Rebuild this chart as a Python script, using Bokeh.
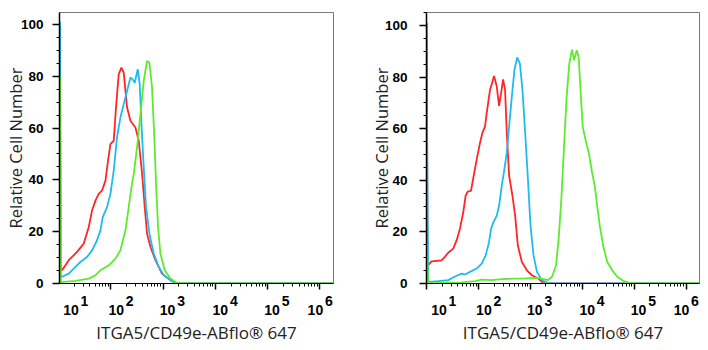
import numpy as np
from bokeh.plotting import figure
from bokeh.layouts import row
from bokeh.models import (FixedTicker, SingleIntervalTicker, Range1d, LogAxis,
                          CustomJSTickFormatter)
from bokeh.embed import file_html
from bokeh.resources import INLINE

# ---------------- data ----------------
decades = [1, 2, 3, 4, 5, 6]
minor_mult = [2, 3, 4, 5, 6, 7, 8, 9]
y_ticks = [0, 20, 40, 60, 80, 100]
x_title = "ITGA5/CD49e-ABflo\u00ae 647"
y_title = "Relative Cell Number"

# left panel (log10 of fluorescence, relative cell number)
left_red_logx = [1.03, 1.04, 1.07, 1.197, 1.356, 1.484, 1.58, 1.643, 1.707, 1.77, 1.834, 1.899, 1.948,
                 1.994, 2.057, 2.10, 2.153, 2.204, 2.248, 2.312, 2.377, 2.472, 2.535, 2.60, 2.65, 2.694,
                 2.76, 2.855, 2.98, 3.14, 3.27, 6.3]
left_red_y = [99, 6, 5.1, 9.0, 12.2, 15.4, 21.8, 28.2, 32, 34.6, 35.9, 39.7, 47.4,
              53.8, 55.1, 67.9, 80.8, 83.3, 81.4, 67.9, 62.8, 60.2, 55.1, 42.3, 29.5, 19.2,
              14.1, 9.0, 3.8, 1.3, 0, 0]

left_blue_logx = [1.03, 1.04, 1.07, 1.197, 1.325, 1.42, 1.547, 1.643, 1.738, 1.803, 1.847, 1.93, 1.994,
                  2.057, 2.12, 2.185, 2.248, 2.312, 2.377, 2.42, 2.459, 2.516, 2.554, 2.587, 2.631,
                  2.675, 2.74, 2.822, 2.918, 3.013, 3.14, 3.236, 3.3, 6.3]
left_blue_y = [101, 3, 2.6, 3.8, 6.4, 8.3, 10.2, 12.8, 16.7, 20.5, 25.6, 29.5, 34.6,
               43.6, 56.4, 64.1, 69.2, 74.3, 79.5, 78.8, 77.5, 82.7, 76.9, 61.5, 44.8,
               29.5, 19.2, 11.5, 6.4, 3.2, 1.3, 0.2, 0, 0]

left_green_logx = [1.03, 1.045, 1.10, 1.325, 1.58, 1.707, 1.803, 1.962, 2.09, 2.185, 2.281, 2.344, 2.396,
                   2.44, 2.503, 2.568, 2.631, 2.694, 2.74, 2.79, 2.836, 2.866, 2.905, 2.95, 3.033,
                   3.14, 3.27, 3.43, 6.3]
left_green_y = [80, 0.5, 0.6, 1.0, 1.9, 3.2, 5.1, 7.0, 9.6, 12.8, 20.5, 29.5, 37.2,
                42.3, 52.5, 65.4, 78.2, 85.9, 85.2, 75.6, 55.1, 38.5, 21.8, 11.5, 5.1,
                1.9, 0.2, 0, 0]

# right panel
right_red_logx = [1.005, 1.02, 1.03, 1.097, 1.29, 1.354, 1.418, 1.515, 1.58, 1.644, 1.708, 1.754, 1.793,
                  1.857, 1.921, 1.967, 2.031, 2.076, 2.128, 2.16, 2.224, 2.302, 2.354, 2.398, 2.437,
                  2.476, 2.514, 2.547, 2.592, 2.656, 2.708, 2.76, 2.838, 2.934, 3.031, 3.16, 3.255, 6.3]
right_red_y = [101, 8, 7.0, 8.6, 9.0, 10.3, 11.9, 13.5, 16.7, 21.2, 27.6, 34.0, 35.6,
               35.9, 43.0, 48.1, 54.5, 58.3, 60.9, 66.0, 75.0, 80.4, 76.3, 68.8, 73.7,
               79.1, 75.0, 58.3, 41.7, 34.0, 26.3, 14.7, 8.3, 5.1, 3.2, 1.9, 0, 0]

right_blue_logx = [1.005, 1.03, 1.064, 1.224, 1.418, 1.58, 1.677, 1.74, 1.838, 1.967, 2.064, 2.141, 2.205,
                   2.244, 2.289, 2.354, 2.398, 2.45, 2.50, 2.547, 2.592, 2.644, 2.694, 2.747, 2.799,
                   2.849, 2.901, 2.954, 3.004, 3.062, 3.128, 3.224, 3.352, 6.3]
right_blue_y = [82, 1.0, 0.6, 0.9, 1.3, 3.0, 3.8, 3.5, 4.5, 5.8, 7.7, 10.9, 16.0,
                21.2, 23.7, 26.3, 30.1, 37.8, 44.2, 50.7, 60.9, 72.4, 82.7, 87.6, 85.3,
                75.0, 58.3, 40.4, 22.4, 10.9, 4.5, 1.3, 0, 0]

right_green_logx = [1.005, 1.03, 1.064, 1.354, 1.677, 1.934, 2.064, 2.257, 2.45, 2.675, 2.901, 3.128,
                    3.255, 3.34, 3.418, 3.495, 3.546, 3.598, 3.65, 3.70, 3.752, 3.805, 3.843, 3.894,
                    3.932, 3.971, 4.01, 4.062, 4.126, 4.191, 4.242, 4.288, 4.339, 4.404, 4.482,
                    4.579, 4.675, 4.803, 4.965, 6.3]
right_green_y = [15, 0.5, 0, 0.3, 0.4, 0.9, 1.5, 1.3, 1.7, 1.9, 2.0, 2.2,
                 1.7, 1.3, 2.6, 7.0, 17.3, 32.7, 53.2, 72.4, 85.3, 90.6, 86.5, 90.4,
                 87.8, 73.7, 60.9, 55.8, 50.7, 43.0, 37.8, 30.1, 22.4, 14.7, 8.3,
                 5.1, 2.6, 0.9, 0, 0]

# ---------------- style / layout ----------------
RED, BLUE, GREEN = "#FF2626", "#1EBBEE", "#5EEA2E"
TICK_FONT = "Liberation Sans"
TITLE_FONT = "Open Sans"
X_END = 6.26
label_dx = [5, -2, -3, -2.5, -3, -12]   # px shift of "10" left edge from its decade tick
TEN_HALF = 7.5                           # half width of "10"
SUP_CENTER = 21                          # centre of exponent from "10" left edge


def label_axis(ticks, texts, standoff, font_size="14px"):
    ax = LogAxis(ticker=FixedTicker(ticks=ticks, minor_ticks=[]),
                 formatter=CustomJSTickFormatter(args=dict(labels=texts), code="return labels[index]"))
    ax.axis_line_color = None
    ax.major_tick_line_color = None
    ax.minor_tick_line_color = None
    ax.major_tick_out = 0
    ax.major_tick_in = 0
    ax.major_label_standoff = standoff
    ax.major_label_text_font = TICK_FONT
    ax.major_label_text_font_size = font_size
    ax.major_label_text_font_style = "bold"
    ax.major_label_text_color = "black"
    return ax


def make_panel(curves, x_start, y_end, bl, br, bt, bb, ytick_standoff, ylabel_standoff):
    p = figure(width=354, height=350, x_axis_type="log", output_backend="svg", toolbar_location=None,
               x_range=Range1d(10 ** x_start, 10 ** X_END), y_range=Range1d(0, y_end),
               min_border_left=bl, min_border_right=br, min_border_top=bt, min_border_bottom=bb)
    p.grid.visible = False
    p.outline_line_color = "#7a7a7a"
    p.outline_line_width = 1
    p.background_fill_color = "white"
    p.border_fill_color = "white"

    for logx, yv, col in curves:
        p.line(10 ** np.array(logx), yv, line_color=col, line_width=1.8)

    xa = p.xaxis[0]
    xa.ticker = FixedTicker(ticks=[10 ** k for k in decades],
                            minor_ticks=[m * 10 ** k for k in decades[:-1] for m in minor_mult])
    xa.major_label_overrides = {10 ** k: " " for k in decades}
    xa.major_label_text_font_size = "2px"
    xa.major_label_text_alpha = 0
    xa.major_label_standoff = 0
    xa.major_tick_out = 6
    xa.major_tick_in = 0
    xa.minor_tick_out = 3
    xa.minor_tick_in = 0
    xa.axis_line_color = "black"
    xa.axis_line_width = 1.2
    xa.major_tick_line_width = 1.5

    ppd = (354 - bl - br) / (X_END - x_start)
    sup_ticks = [10 ** (k + (dx + SUP_CENTER) / ppd) for k, dx in zip(decades, label_dx)]
    ten_ticks = [10 ** (k + (dx + TEN_HALF) / ppd) for k, dx in zip(decades, label_dx)]
    ax_sup = label_axis(sup_ticks, [str(k) for k in decades], 6)
    ax_ten = label_axis(ten_ticks, ["10" for k in decades], -4)
    ax_ten.axis_label = x_title
    ax_ten.axis_label_text_font = TITLE_FONT
    ax_ten.axis_label_text_font_size = "17px"
    ax_ten.axis_label_text_font_style = "normal"
    ax_ten.axis_label_text_color = "#222222"
    ax_ten.axis_label_standoff = 3
    p.add_layout(ax_sup, "below")
    p.add_layout(ax_ten, "below")

    ya = p.yaxis[0]
    ya.ticker = SingleIntervalTicker(interval=20, num_minor_ticks=4)
    ya.major_label_text_font = TICK_FONT
    ya.major_label_text_font_size = "13.5px"
    ya.major_label_text_font_style = "bold"
    ya.major_label_text_color = "black"
    ya.major_label_standoff = ytick_standoff
    ya.major_tick_out = 7
    ya.major_tick_in = 0
    ya.minor_tick_out = 3
    ya.minor_tick_in = 0
    ya.axis_line_color = "black"
    ya.axis_line_width = 1.5
    ya.major_tick_line_width = 1.5
    ya.axis_label = y_title
    ya.axis_label_text_font = TITLE_FONT
    ya.axis_label_text_font_size = "16.5px"
    ya.axis_label_text_font_style = "normal"
    ya.axis_label_text_color = "#222222"
    ya.axis_label_standoff = ylabel_standoff
    return p


p1 = make_panel([(left_red_logx, left_red_y, RED), (left_blue_logx, left_blue_y, BLUE),
                 (left_green_logx, left_green_y, GREEN)],
                1.02, 104.6, 59, 21, 11, 67, 9, -9)
p2 = make_panel([(right_red_logx, right_red_y, RED), (right_blue_logx, right_blue_y, BLUE),
                 (right_green_logx, right_green_y, GREEN)],
                1.0, 105, 72, 9, 12, 65, 12, -11)

layout = row(p1, p2)
open("out.html", "w").write(file_html(layout, INLINE))
